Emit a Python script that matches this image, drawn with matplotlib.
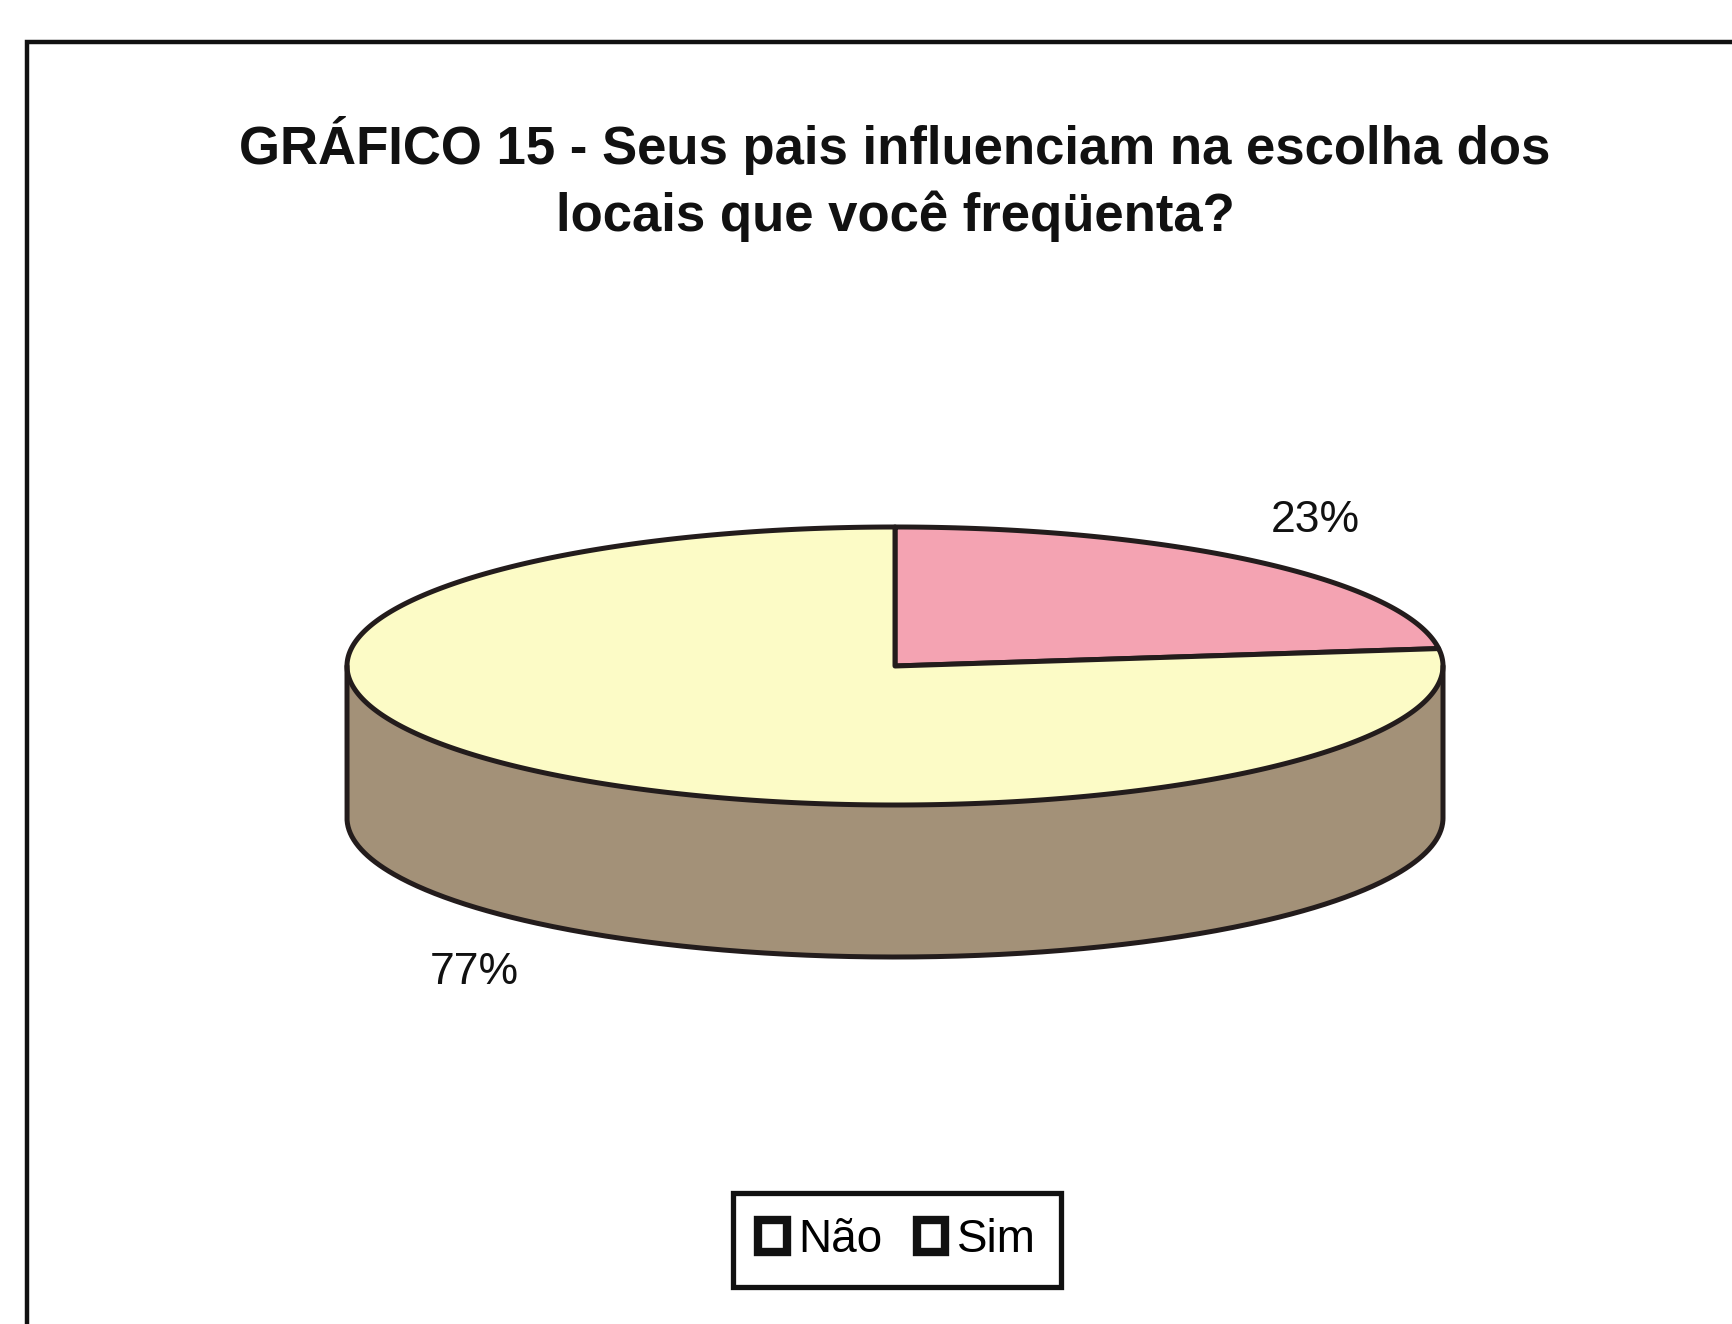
import numpy as np
import matplotlib
matplotlib.use("Agg")
import matplotlib.pyplot as plt
from matplotlib.patches import Polygon, Rectangle
from matplotlib.lines import Line2D

# ---- data ----
categories = ["Não", "Sim"]
percentages = [77, 23]
top_colors = ["#FCFBC6", "#F4A3B2"]
side_colors = ["#A39178", "#B87886"]
title_text = "GRÁFICO 15 - Seus pais influenciam na escolha dos\nlocais que você freqüenta?"

plt.rcParams["font.family"] = ["Liberation Sans", "DejaVu Sans"]

W, H = 1733, 1324
fig = plt.figure(figsize=(W / 100, H / 100), dpi=100)
fig.patch.set_facecolor("white")
ax = fig.add_axes([0, 0, 1, 1])
ax.set_xlim(0, W)
ax.set_ylim(H, 0)
ax.axis("off")

# outer frame (open at right and bottom)
ax.add_line(Line2D([27, 27, W + 5], [H + 5, 42, 42], color="#111111", lw=3.2,
                   solid_joinstyle="miter", zorder=1))

# title
ax.text(895, 179, title_text, ha="center", va="center", fontsize=38,
        fontweight="bold", linespacing=1.40, color="#111111")

# ---- 3D pie geometry ----
cx, cy = 895, 666          # centre of the top face
a, b = 548, 139            # semi-axes of the top ellipse
depth = 152                # thickness of the disc
edge = "#231c1c"
lw = 3.6


def pt(theta_deg, dz=0.0):
    t = np.deg2rad(theta_deg)
    return cx + a * np.cos(t), cy - b * np.sin(t) + dz


# Slices run clockwise, Sim first from 12 o'clock
draw_order = [1, 0]
start = 90.0
spans = {}
for i in draw_order:
    sweep = percentages[i] / sum(percentages) * 360.0
    spans[i] = (start - sweep, start)   # (low, high) in degrees
    start -= sweep

# side walls (front half only: angles where the disc faces the viewer)
for i in draw_order:
    lo, hi = spans[i]
    th = np.linspace(lo, hi, 600)
    vis = np.sin(np.deg2rad(th)) <= 0
    if not vis.any():
        continue
    tv = th[vis]
    xs_top, ys_top = pt(tv)
    xs_bot, ys_bot = pt(tv[::-1], depth)
    poly = np.column_stack([np.r_[xs_top, xs_bot], np.r_[ys_top, ys_bot]])
    ax.add_patch(Polygon(poly, closed=True, facecolor=side_colors[i],
                         edgecolor="none", zorder=2))

# outline of the side wall as one continuous path
tf = np.linspace(180, 360, 400)
xb, yb = pt(tf, depth)
xl, yl = pt(180)
xr, yr = pt(360)
ax.plot(np.r_[xl, xb, xr], np.r_[yl, yb, yr], color=edge, lw=lw, zorder=4,
        solid_joinstyle="round", solid_capstyle="round")

# top faces
for i in draw_order:
    lo, hi = spans[i]
    th = np.linspace(lo, hi, 600)
    xs, ys = pt(th)
    poly = np.column_stack([np.r_[cx, xs], np.r_[cy, ys]])
    ax.add_patch(Polygon(poly, closed=True, facecolor=top_colors[i],
                         edgecolor=edge, lw=lw, joinstyle="round", zorder=3))

# percentage labels
label_pos = {1: (1315, 521), 0: (474, 973)}
for i in draw_order:
    x, y = label_pos[i]
    ax.text(x, y, f"{percentages[i]}%", ha="center", va="center",
            fontsize=32, color="#111111")

# legend
handles = [Rectangle((0, 0), 1, 1, facecolor="white", edgecolor="#111111",
                     lw=6, joinstyle="round") for _ in categories]
leg = fig.legend(handles, categories, loc="center",
                 bbox_to_anchor=(897 / W, 1 - 1240 / H), ncol=2,
                 fontsize=33, frameon=True, fancybox=False, framealpha=1,
                 handlelength=0.62, handleheight=0.72, handletextpad=0.25,
                 columnspacing=0.75, borderpad=0.55, borderaxespad=0)
leg.get_frame().set_edgecolor("#111111")
leg.get_frame().set_linewidth(3.8)

fig.savefig("out.png", dpi=100, facecolor="white")
